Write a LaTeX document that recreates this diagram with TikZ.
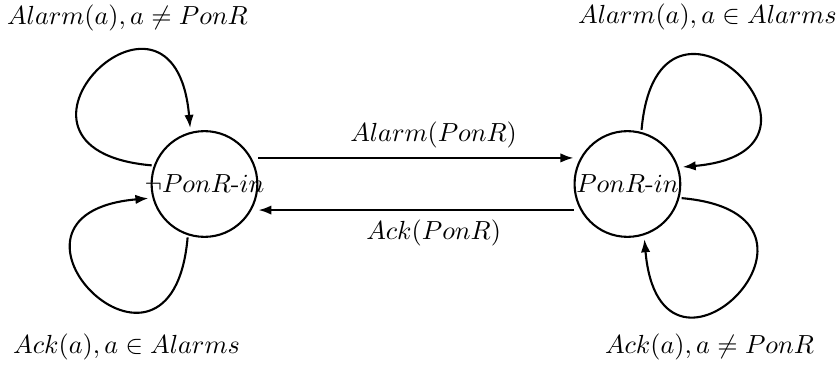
\documentclass[tikz,border=0pt]{standalone}
\usepackage{amsmath, amssymb}
\usepackage{tikz}
\usetikzlibrary{positioning}
\usetikzlibrary{arrows.meta}
\tikzset{>={Latex[length=5pt,width=3.6pt]}}
\tikzset{state/.style={draw, circle, inner sep=0pt, minimum size=1.42cm}}
\tikzset{selfloop/.style={->, distance=2.5cm, shorten >=1.5pt, shorten <=0.8pt}}

\begin{document}
\begin{tikzpicture}[thick]
        \useasboundingbox (-2.746,-2.458) rectangle (8.481,2.471);

        % 1. The two states
        \node[state] (L) at (0,0) {\makebox[0pt]{$\neg PonR$-$in$}};
        \node[state, right=4.232cm of L] (R) {\makebox[0pt]{$PonR$-$in$}};

        % 2. Transitions between the states
        \draw[->] ([yshift=0.35cm]L.east) -- ([yshift=0.35cm]R.west)
              node[pos=0.556, above] {$Alarm(PonR)$};
        \draw[->] ([yshift=-0.35cm]R.west) -- ([yshift=-0.35cm]L.east)
              node[pos=0.444, below] {$Ack(PonR)$};

        % 3. Self loops
        \draw[selfloop] (L.160) to[out=175, in=95] (L.105);
        \draw[selfloop] (L.252) to[out=265, in=185] (L.195);
        \draw[selfloop] (R.75) to[out=85, in=5] (R.18);
        \draw[selfloop] (R.345) to[out=355, in=275] (R.288);

        % 4. Loop labels
        \node (alarmL) at (-1.034,2.229) {$Alarm(a), a \neq PonR$};
        \node (ackL) at (-1.047,-2.189) {$Ack(a), a \in Alarms$};
        \node (alarmR) at (6.755,2.243) {$Alarm(a), a \in Alarms$};
        \node (ackR) at (6.782,-2.189) {$Ack(a), a \neq PonR$};
    \end{tikzpicture}
\end{document}
